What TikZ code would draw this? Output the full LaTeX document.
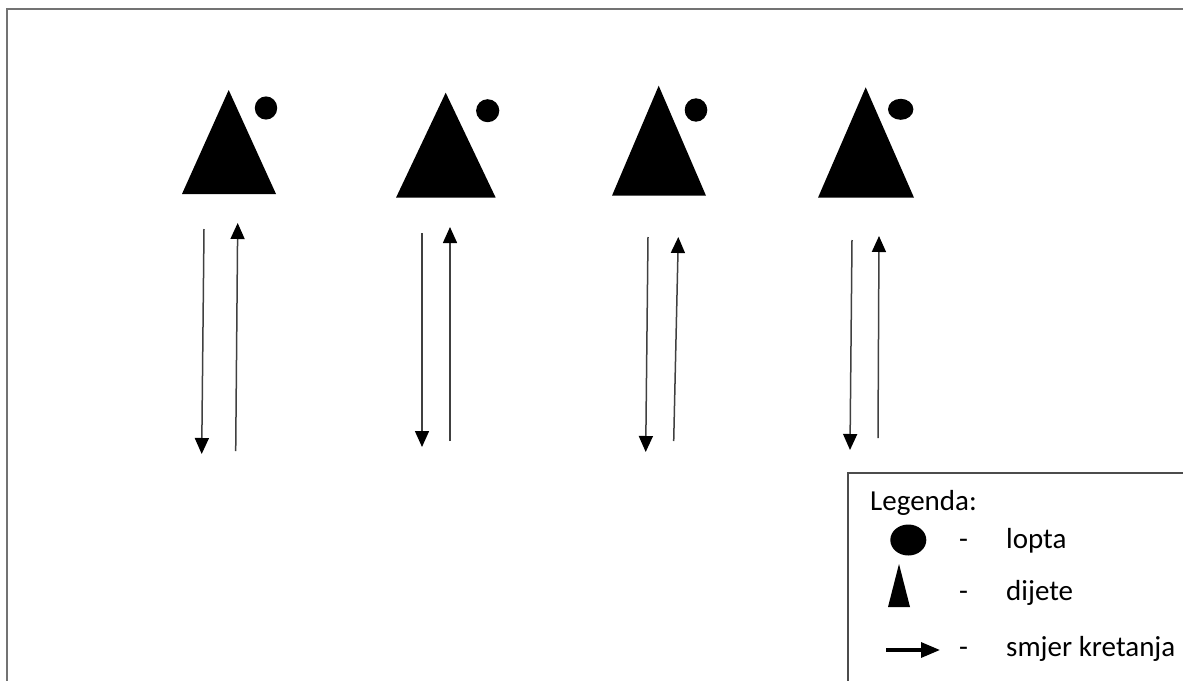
\documentclass[tikz,border=0pt]{standalone}
\usepackage{fontspec}
\setmainfont{Carlito}
\usetikzlibrary{arrows.meta}
\tikzset{
  kid/.style={fill=black},
  ball/.style={fill=black},
  move/.style={draw=black!75, line width=1.5pt, -{Triangle[length=16pt,width=14pt,black]}},
  legtext/.style={anchor=base west, inner sep=0pt, font=\fontsize{29}{33}\selectfont},
}
\begin{document}
\begin{tikzpicture}[x=1pt,y=-1pt]
\useasboundingbox (0,0) rectangle (1183,680);
\clip (0,0) rectangle (1183,680);
\fill[white] (0,0) rectangle (1183,680);
% outer frame
\draw[black!55, line width=2.5pt] (7,9) rectangle (1200,700);

% children and balls
\fill[kid] (228.7,90) -- (276,194) -- (182,194) -- cycle;
\fill[ball] (266,108) ellipse [x radius=11.2, y radius=11.6];
\fill[kid] (445.7,92.7) -- (495.7,197.7) -- (396,197.7) -- cycle;
\fill[ball] (487.7,110.7) ellipse [x radius=11.6, y radius=11.5];
\fill[kid] (658.7,85.7) -- (706,195.7) -- (612,195.7) -- cycle;
\fill[ball] (696,110) ellipse [x radius=11.3, y radius=11.7];
\fill[kid] (865.7,87.3) -- (914,197.7) -- (818,197.7) -- cycle;
\fill[ball] (900.7,109.3) ellipse [x radius=12.7, y radius=10.5];

% movement arrows
\coordinate (a1s) at (204,229);  \coordinate (a1e) at (201.7,454);
\coordinate (b1s) at (235.7,451); \coordinate (b1e) at (237.7,223);
\coordinate (a2s) at (422,233);  \coordinate (a2e) at (422,447);
\coordinate (b2s) at (450,441);  \coordinate (b2e) at (450,227);
\coordinate (a3s) at (648,237);  \coordinate (a3e) at (645.7,452);
\coordinate (b3s) at (673.7,441); \coordinate (b3e) at (678.3,237);
\coordinate (a4s) at (852,240);  \coordinate (a4e) at (850,450);
\coordinate (b4s) at (878,438);  \coordinate (b4e) at (879,236);
\draw[move] (a1s) -- (a1e);
\draw[move] (b1s) -- (b1e);
\draw[move] (a2s) -- (a2e);
\draw[move] (b2s) -- (b2e);
\draw[move] (a3s) -- (a3e);
\draw[move] (b3s) -- (b3e);
\draw[move] (a4s) -- (a4e);
\draw[move] (b4s) -- (b4e);

% legend
\draw[black!70, line width=1.5pt] (848,473) rectangle (1200,700);
\node[legtext] (leg) at (870,510) {Legenda:};
\fill[ball] (908.3,540) ellipse [x radius=18, y radius=15.5];
\node[legtext] (d1) at (959,548) {-};
\node[legtext] (t1) at (1006,548) {lopta};
\fill[kid] (899,564) -- (910,607) -- (888,607) -- cycle;
\node[legtext] (d2) at (959,600) {-};
\node[legtext] (t2) at (1006,600) {dijete};
\coordinate (ls) at (886,650); \coordinate (le) at (940,650);
\draw[black, line width=3.2pt, -{Triangle[length=19pt,width=15pt]}] (ls) -- (le);
\node[legtext] (d3) at (959,656) {-};
\node[legtext] (t3) at (1006,656) {smjer kretanja};
\end{tikzpicture}
\end{document}
